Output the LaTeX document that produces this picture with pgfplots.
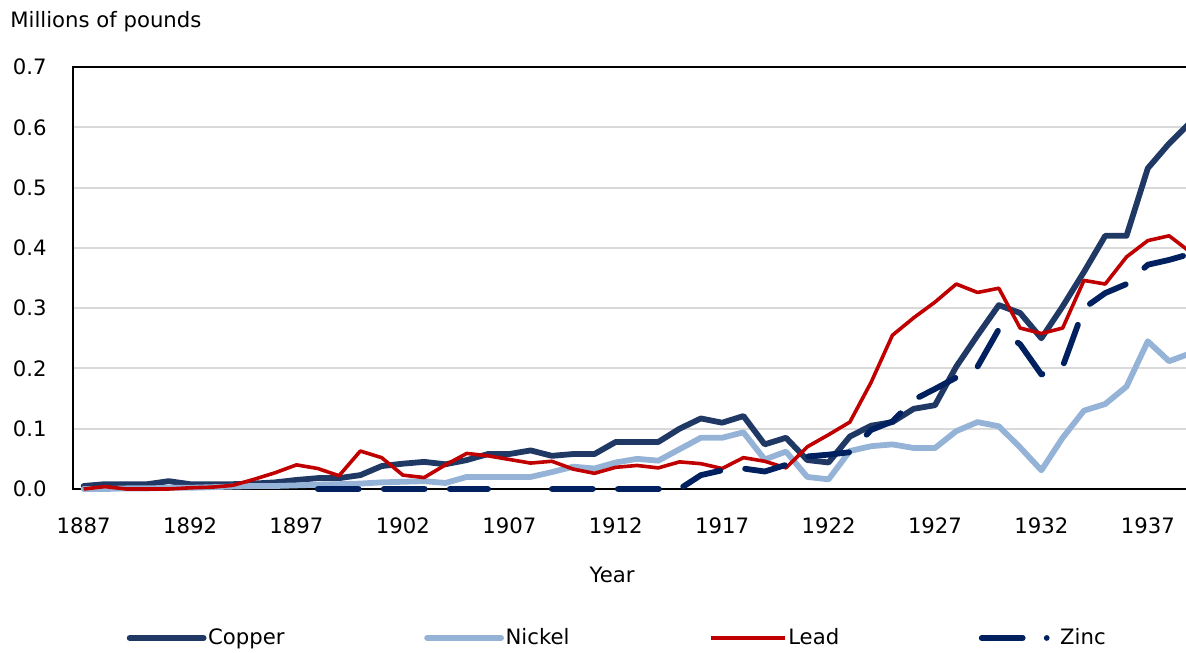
\documentclass[border=0pt]{standalone}
\usepackage{pgfplots}
\usepackage{pgfplotstable}
\usepackage{fontspec}
\setmainfont{DejaVu Sans}
\pgfplotsset{compat=1.18}
\newcommand{\fs}{\fontsize{10.6}{12.7}\selectfont}
\definecolor{copper}{RGB}{31,56,100}
\definecolor{nickel}{RGB}{149,179,215}
\definecolor{lead}{RGB}{192,0,0}
\definecolor{zinc}{RGB}{0,32,96}
\definecolor{gridc}{RGB}{217,217,217}

\pgfplotstableread{
year copper nickel lead zinc
1887 0.005 0.000 0.000 nan
1888 0.008 0.000 0.004 nan
1889 0.008 0.001 0.000 nan
1890 0.008 0.001 0.000 nan
1891 0.013 0.002 0.000 nan
1892 0.008 0.002 0.002 nan
1893 0.008 0.003 0.003 nan
1894 0.008 0.004 0.006 nan
1895 0.009 0.005 0.016 nan
1896 0.011 0.005 0.027 nan
1897 0.015 0.006 0.040 nan
1898 0.018 0.007 0.034 0
1899 0.018 0.008 0.022 0
1900 0.023 0.009 0.063 0
1901 0.038 0.011 0.052 0
1902 0.042 0.012 0.023 0
1903 0.045 0.013 0.019 0
1904 0.041 0.010 0.040 0
1905 0.048 0.020 0.059 0
1906 0.058 0.020 0.055 0
1907 0.058 0.020 0.049 nan
1908 0.064 0.020 0.043 nan
1909 0.055 0.028 0.046 0
1910 0.058 0.037 0.033 0
1911 0.058 0.034 0.026 0
1912 0.078 0.044 0.036 0
1913 0.078 0.050 0.039 0
1914 0.078 0.047 0.035 0
1915 0.100 0.066 0.045 0
1916 0.117 0.085 0.042 0.023
1917 0.110 0.085 0.034 0.031
1918 0.121 0.094 0.052 0.034
1919 0.074 0.049 0.046 0.029
1920 0.085 0.062 0.035 0.040
1921 0.048 0.020 0.070 0.054
1922 0.044 0.016 0.090 0.057
1923 0.087 0.063 0.111 0.061
1924 0.105 0.071 0.177 0.098
1925 0.111 0.074 0.255 0.112
1926 0.133 0.068 0.284 0.148
1927 0.139 0.068 0.310 0.166
1928 0.203 0.096 0.340 0.185
1929 0.255 0.111 0.326 0.203
1930 0.305 0.104 0.333 0.265
1931 0.292 0.069 0.267 0.240
1932 0.250 0.031 0.258 0.190
1933 0.303 0.085 0.267 0.203
1934 0.360 0.130 0.346 0.300
1935 0.420 0.141 0.340 0.325
1936 0.420 0.170 0.385 0.340
1937 0.532 0.245 0.412 0.372
1938 0.573 0.212 0.420 0.380
1939 0.608 0.225 0.393 0.390
}\datatable

\begin{document}
\begin{tikzpicture}
\clip (-36.5pt,-81.5pt) rectangle (556.5pt,244.5pt);
\begin{axis}[
  at={(0,0)}, anchor=south west,
  scale only axis,
  width=564pt, height=211pt,
  xmin=1886.5, xmax=1939.5,
  ymin=0, ymax=0.7,
  xtick={1887,1892,1897,1902,1907,1912,1917,1922,1927,1932,1937},
  ytick={0,0.1,0.2,0.3,0.4,0.5,0.6,0.7},
  xticklabel style={/pgf/number format/1000 sep={}},
  yticklabel style={/pgf/number format/fixed, /pgf/number format/fixed zerofill, /pgf/number format/precision=1},
  /pgf/number format/assume math mode=true,
  major tick length=0pt,
  tick label style={font=\fs},
  xticklabel style={anchor=north, inner sep=0pt, yshift=-14pt},
  yticklabel style={anchor=east, inner sep=0pt, xshift=-13pt},
  ymajorgrids,
  grid style={draw=gridc, line width=1pt},
  axis line style={draw=black, line width=1pt},
  clip=false,
  unbounded coords=jump,
  xlabel={Year},
  xlabel style={font=\fs, at={(axis description cs:0.478,-0.2038)}, anchor=center},
  ylabel={Millions of pounds},
  ylabel style={font=\fs, rotate=-90, inner sep=0pt, at={(axis description cs:-0.0559,1.1066)}, anchor=west},
  legend columns=4,
  legend style={font=\fs, draw=none, fill=none, at={(0.4823,-0.353)}, anchor=center,
    /tikz/every even column/.append style={column sep=69pt},
    nodes={inner xsep=0.8pt}},
  legend cell align=left,
  legend image code/.code={\draw[#1] (0pt,0pt) -- (37pt,0pt);},
]
\addplot[color=copper, line width=2.9pt, line join=round, line cap=round] table[x=year, y=copper] {\datatable};
\addlegendentry{Copper}
\addplot[color=nickel, line width=2.9pt, line join=round, line cap=round] table[x=year, y=nickel] {\datatable};
\addlegendentry{Nickel}
\addplot[color=lead, line width=1.8pt, line join=round] table[x=year, y=lead] {\datatable};
\addlegendentry{Lead}
\addplot[color=zinc, line width=2.9pt, line join=round, line cap=round, dash pattern=on 20.5pt off 12.5pt,
  legend image code/.code={\draw[color=zinc, line width=2.9pt, line cap=round, dash pattern=on 20.5pt off 12pt on 0pt off 20pt] (0pt,0pt) -- (37pt,0pt);}] table[x=year, y=zinc] {\datatable};
\addlegendentry{Zinc}
\end{axis}
\end{tikzpicture}
\end{document}
